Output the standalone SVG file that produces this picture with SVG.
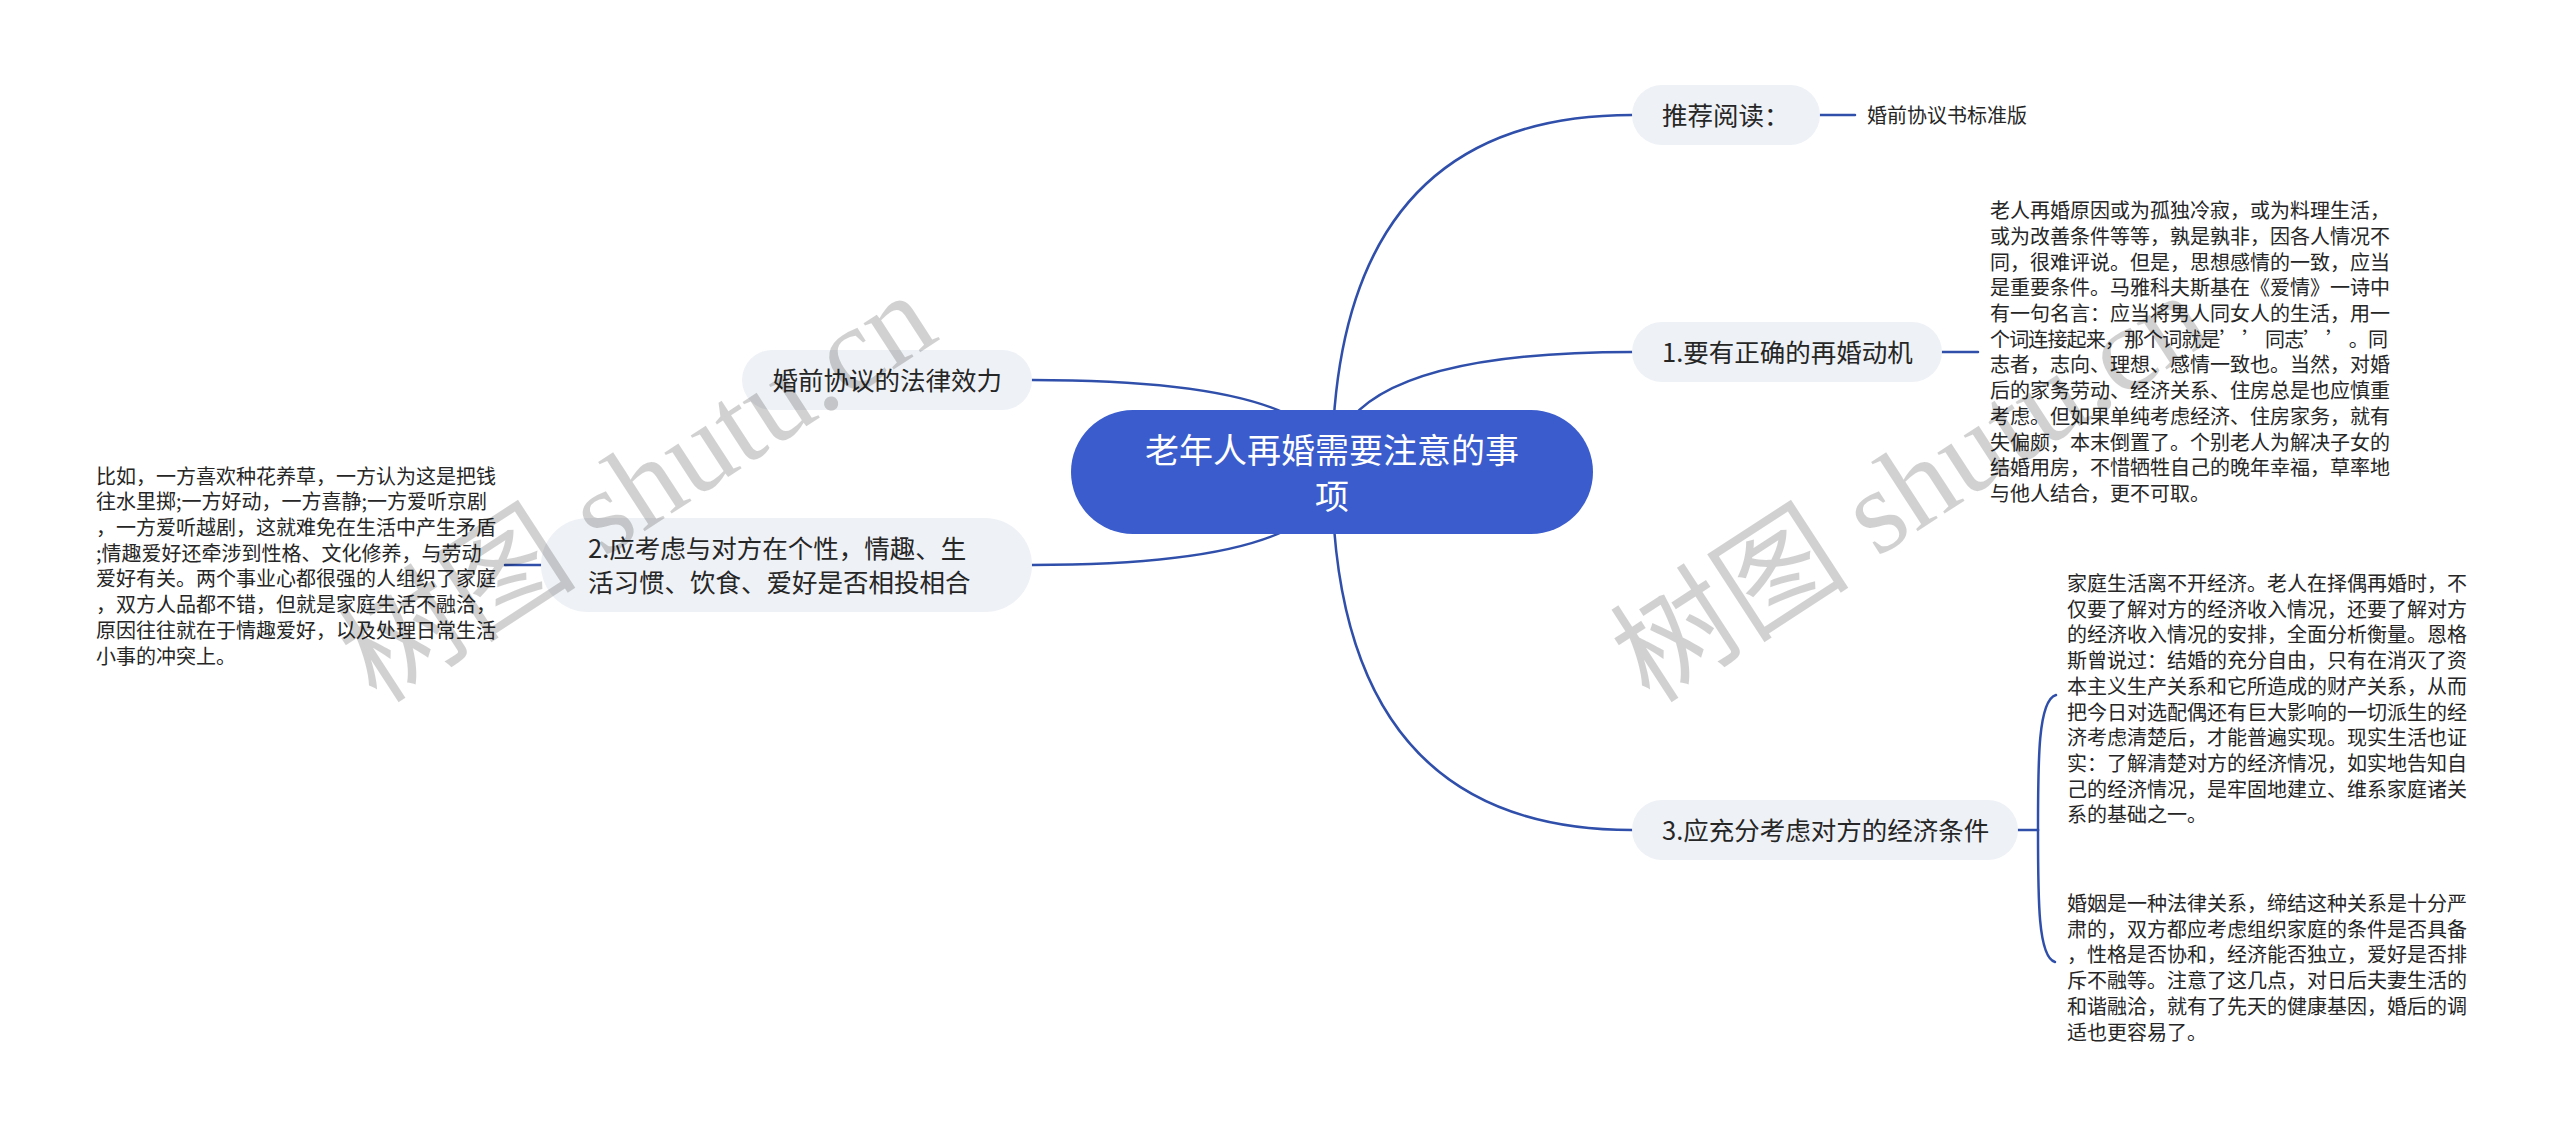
<svg xmlns="http://www.w3.org/2000/svg" width="2560" height="1135" viewBox="0 0 2560 1135">
  <style>
    .bg { fill: #ffffff; }
    .conn { fill: none; stroke: #2f4fab; stroke-width: 2.5; stroke-linecap: round; }
    .sub { fill: #eef1f5; }
    .root { fill: #3a5ccc; }
    .t { font-family: "Noto Sans CJK SC", "Noto Sans", sans-serif; fill: #262626; }
    .tn { font-size: 25.5px; }
    .tp { font-size: 20px; }
    .tr { font-size: 34px; fill: #ffffff; }
    .wm { font-family: "Liberation Serif", "Noto Sans CJK SC", serif; font-size: 120px; fill: #000000; fill-opacity: 0.18; }
  </style>
  <rect class="bg" x="0" y="0" width="2560" height="1135"/>

  <g id="connectors">
    <path class="conn" d="M1332,471 Q1332,115 1632,115"/>
    <path class="conn" d="M1332,471 Q1332,352 1632,352"/>
    <path class="conn" d="M1332,471 Q1332,830 1632,830"/>
    <path class="conn" d="M1332,471 Q1332,380 1032,380"/>
    <path class="conn" d="M1332,471 Q1332,565 1032,565"/>
    <path class="conn" d="M1820,115 H1855"/>
    <path class="conn" d="M1942,352 H1978"/>
    <path class="conn" d="M541,565 H505"/>
    <path class="conn" d="M2018,830 H2038"/>
    <path class="conn" d="M2038,830 C2038,760 2038,700 2056,695"/>
    <path class="conn" d="M2038,830 C2038,900 2038,957 2055,962"/>
  </g>

  <g id="root">
    <rect class="root" x="1071" y="410" width="522" height="124" rx="62"/>
    <text class="t tr" x="1332" y="463" text-anchor="middle">老年人再婚需要注意的事</text>
    <text class="t tr" x="1332" y="509" text-anchor="middle">项</text>
  </g>

  <g id="n-tuijian">
    <rect class="sub" x="1632" y="85" width="188" height="60" rx="30"/>
    <text class="t tn" x="1662" y="124.7">推荐阅读：</text>
  </g>
  <g id="n-tuijian-leaf">
    <text class="t tp" x="1867" y="122.5">婚前协议书标准版</text>
  </g>

  <g id="n-1">
    <rect class="sub" x="1632" y="322" width="310" height="60" rx="30"/>
    <text class="t tn" x="1662" y="361.7">1.要有正确的再婚动机</text>
  </g>
  <g id="n-1-text">
    <text class="t tp" x="1990" y="218.2">老人再婚原因或为孤独冷寂，或为料理生活，</text>
    <text class="t tp" x="1990" y="243.9">或为改善条件等等，孰是孰非，因各人情况不</text>
    <text class="t tp" x="1990" y="269.6">同，很难评说。但是，思想感情的一致，应当</text>
    <text class="t tp" x="1990" y="295.3">是重要条件。马雅科夫斯基在《爱情》一诗中</text>
    <text class="t tp" x="1990" y="321.0">有一句名言：应当将男人同女人的生活，用一</text>
    <text class="t tp" x="1990" y="346.7" xml:space="preserve" textLength="398" lengthAdjust="spacing">个词连接起来，那个词就是’ ’ 同志’ ’ 。同</text>
    <text class="t tp" x="1990" y="372.4">志者，志向、理想、感情一致也。当然，对婚</text>
    <text class="t tp" x="1990" y="398.1">后的家务劳动、经济关系、住房总是也应慎重</text>
    <text class="t tp" x="1990" y="423.8">考虑。但如果单纯考虑经济、住房家务，就有</text>
    <text class="t tp" x="1990" y="449.5">失偏颇，本末倒置了。个别老人为解决子女的</text>
    <text class="t tp" x="1990" y="475.2">结婚用房，不惜牺牲自己的晚年幸福，草率地</text>
    <text class="t tp" x="1990" y="500.9">与他人结合，更不可取。</text>
  </g>

  <g id="n-3">
    <rect class="sub" x="1632" y="800" width="386" height="60" rx="30"/>
    <text class="t tn" x="1662" y="839.7">3.应充分考虑对方的经济条件</text>
  </g>
  <g id="n-3-text-a">
    <text class="t tp" x="2067" y="591.0">家庭生活离不开经济。老人在择偶再婚时，不</text>
    <text class="t tp" x="2067" y="616.7">仅要了解对方的经济收入情况，还要了解对方</text>
    <text class="t tp" x="2067" y="642.4">的经济收入情况的安排，全面分析衡量。恩格</text>
    <text class="t tp" x="2067" y="668.1">斯曾说过：结婚的充分自由，只有在消灭了资</text>
    <text class="t tp" x="2067" y="693.8">本主义生产关系和它所造成的财产关系，从而</text>
    <text class="t tp" x="2067" y="719.5">把今日对选配偶还有巨大影响的一切派生的经</text>
    <text class="t tp" x="2067" y="745.2">济考虑清楚后，才能普遍实现。现实生活也证</text>
    <text class="t tp" x="2067" y="770.9">实：了解清楚对方的经济情况，如实地告知自</text>
    <text class="t tp" x="2067" y="796.6">己的经济情况，是牢固地建立、维系家庭诸关</text>
    <text class="t tp" x="2067" y="822.3">系的基础之一。</text>
  </g>
  <g id="n-3-text-b">
    <text class="t tp" x="2067" y="911.0">婚姻是一种法律关系，缔结这种关系是十分严</text>
    <text class="t tp" x="2067" y="936.7">肃的，双方都应考虑组织家庭的条件是否具备</text>
    <text class="t tp" x="2067" y="962.4">，性格是否协和，经济能否独立，爱好是否排</text>
    <text class="t tp" x="2067" y="988.1">斥不融等。注意了这几点，对日后夫妻生活的</text>
    <text class="t tp" x="2067" y="1013.8">和谐融洽，就有了先天的健康基因，婚后的调</text>
    <text class="t tp" x="2067" y="1039.5">适也更容易了。</text>
  </g>

  <g id="n-legal">
    <rect class="sub" x="742" y="350" width="290" height="60" rx="30"/>
    <text class="t tn" x="772.5" y="389.7">婚前协议的法律效力</text>
  </g>

  <g id="n-2">
    <rect class="sub" x="541" y="518" width="491" height="94" rx="47"/>
    <text class="t tn" x="588" y="557.7">2.应考虑与对方在个性，情趣、生</text>
    <text class="t tn" x="588" y="591.7">活习惯、饮食、爱好是否相投相合</text>
  </g>
  <g id="n-2-text">
    <text class="t tp" x="96" y="483.6">比如，一方喜欢种花养草，一方认为这是把钱</text>
    <text class="t tp" x="96" y="509.3">往水里掷;一方好动，一方喜静;一方爱听京剧</text>
    <text class="t tp" x="96" y="535.0">，一方爱听越剧，这就难免在生活中产生矛盾</text>
    <text class="t tp" x="96" y="560.7">;情趣爱好还牵涉到性格、文化修养，与劳动</text>
    <text class="t tp" x="96" y="586.4">爱好有关。两个事业心都很强的人组织了家庭</text>
    <text class="t tp" x="96" y="612.1">，双方人品都不错，但就是家庭生活不融洽，</text>
    <text class="t tp" x="96" y="637.8">原因往往就在于情趣爱好，以及处理日常生活</text>
    <text class="t tp" x="96" y="663.5">小事的冲突上。</text>
  </g>

  <g id="watermarks">
    <text class="wm" x="377" y="705" transform="rotate(-33 377 705)">树图 shutu.cn</text>
    <text class="wm" x="1650" y="705" transform="rotate(-33 1650 705)">树图 shutu.cn</text>
  </g>
</svg>
